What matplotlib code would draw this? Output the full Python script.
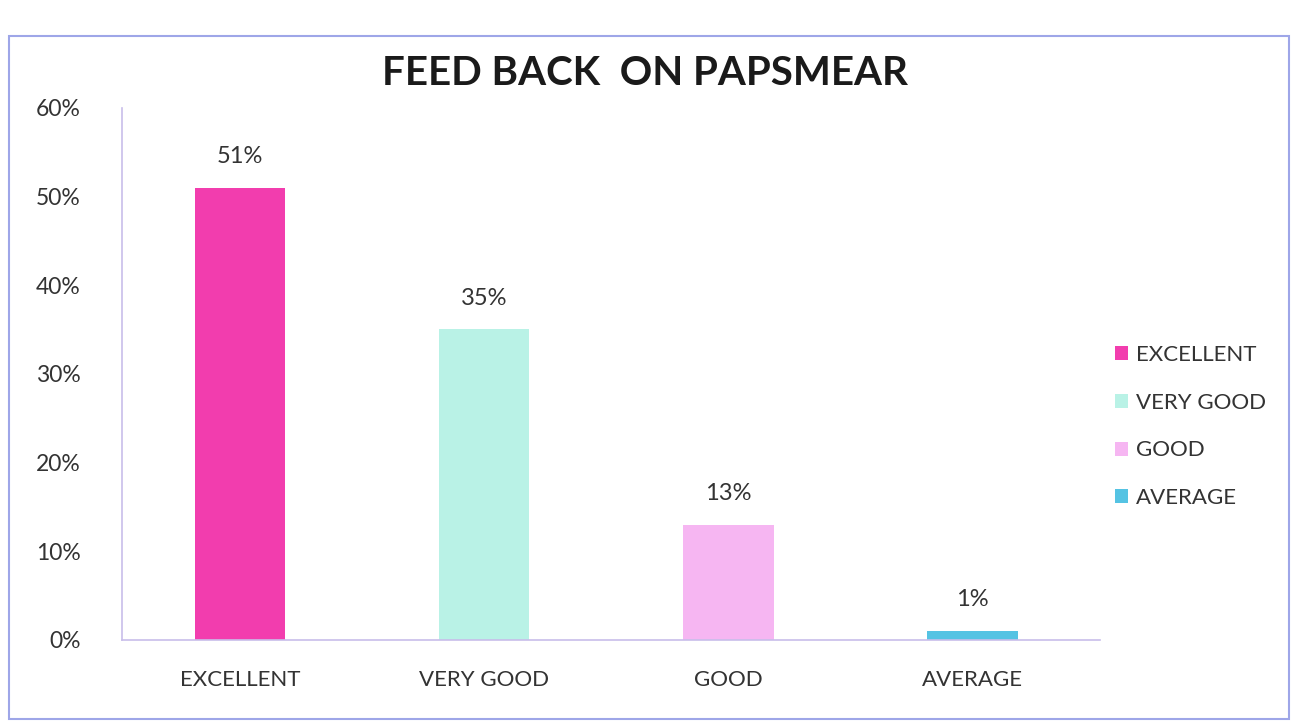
import matplotlib.pyplot as plt
from matplotlib.patches import Rectangle, Patch

plt.rcParams['font.family'] = ['Lato', 'DejaVu Sans']

categories = ['EXCELLENT', 'VERY GOOD', 'GOOD', 'AVERAGE']
values = [51, 35, 13, 1]
colors = ['#F23DAE', '#B9F2E6', '#F6B6F2', '#55C3E3']
yticks = [0, 10, 20, 30, 40, 50, 60]

fig = plt.figure(figsize=(13.03, 7.23), dpi=100)
fig.patches.append(Rectangle((0.007, 0.005), 0.982, 0.945, transform=fig.transFigure,
                             fill=False, edgecolor='#9EA6E8', linewidth=1.5))

ax = fig.add_axes([0.094, 0.115, 0.75, 0.736])
x = range(len(categories))
bars = ax.bar(x, values, width=0.37, color=colors)

for b, v in zip(bars, values):
    ax.annotate('{}%'.format(v), (b.get_x() + b.get_width() / 2, v),
                xytext=(0, 15), textcoords='offset points',
                ha='center', va='bottom', fontsize=17, color='#333333')

ax.set_ylim(0, 60)
ax.set_xlim(-0.48, 3.52)
ax.set_yticks(yticks)
ax.set_yticklabels(['{}%'.format(t) for t in yticks], fontsize=16.5, color='#333333')
ax.set_xticks(list(x))
ax.set_xticklabels(categories, fontsize=16, color='#333333')
ax.tick_params(length=0, pad=22)
ax.tick_params(axis='y', pad=30)

for s in ['top', 'right']:
    ax.spines[s].set_visible(False)
for s in ['left', 'bottom']:
    ax.spines[s].set_color('#C8BEEA')
    ax.spines[s].set_linewidth(1.2)

fig.text(0.495, 0.898, 'FEED BACK  ON PAPSMEAR', ha='center', va='center',
         fontsize=29, fontweight='bold', color='#1a1a1a')

handles = [Patch(facecolor=c, label=l) for c, l in zip(colors, categories)]
fig.legend(handles=handles, loc='center left', bbox_to_anchor=(0.84, 0.41),
           frameon=False, fontsize=16, handlelength=0.6, handleheight=0.6,
           handletextpad=0.35, labelspacing=1.25, labelcolor='#333333')

plt.savefig('out.png', dpi=100)
